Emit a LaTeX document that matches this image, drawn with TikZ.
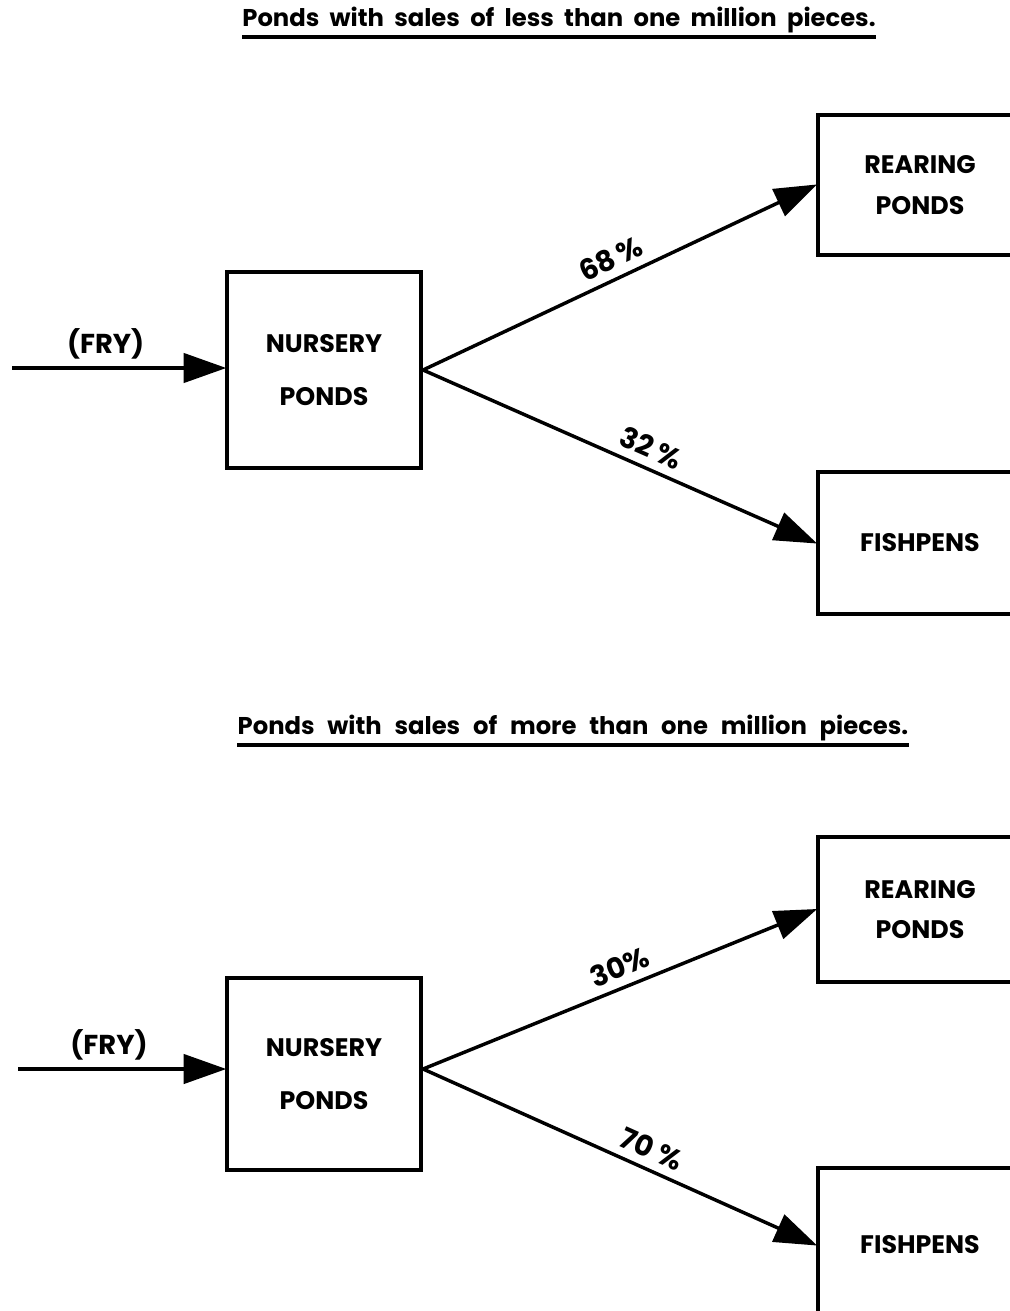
\documentclass[tikz,border=0pt]{standalone}
\usepackage{fontspec}
\setmainfont{Poppins}
\usetikzlibrary{arrows.meta}
\newcommand{\wsp}{\hspace{9.6pt}}
\tikzset{
  box/.style={draw, line width=3.1pt, align=center, inner sep=0pt, font=\fontsize{19pt}{23pt}\selectfont\bfseries},
  flow/.style={line width=2.6pt, -{Triangle[length=32pt,width=22pt]}, shorten >=-1pt},
  pct/.style={font=\fontsize{21.5pt}{24pt}\selectfont\bfseries, sloped, above=5pt, inner sep=1pt},
  title/.style={font=\fontsize{18.2pt}{22pt}\selectfont\bfseries, inner sep=0pt},
  uline/.style={line width=2.5pt},
  fry/.style={font=\fontsize{20.5pt}{24pt}\selectfont\bfseries}
}
\begin{document}
\begin{tikzpicture}[x=0.75pt,y=-0.75pt]
\useasboundingbox (0,0) rectangle (1010,1311);
% ---------- top diagram ----------
\node[title] (t1) at (559,20) {Ponds\ \ with\ \ sales\ \ of\ \ less\ \ than\ \ one\ \ million\ \ pieces.};
\draw[uline] (t1.south west |- 0,37) -- (t1.south east |- 0,37);
\node[box, minimum width=145.5pt, minimum height=147pt] (n1) at (324,370) {NURSERY\\[17pt]PONDS};
\node[box, minimum width=153pt, minimum height=105pt] (r1) at (920,185) {REARING\\[8pt]PONDS};
\node[box, minimum width=153pt, minimum height=106.5pt] (f1) at (920,543) {FISHPENS};
\coordinate (a1) at (12,368);
\draw[flow] (a1) -- node[fry, above=2pt, pos=0.44] {(FRY)} (a1 -| n1.west);
\draw[flow] (n1.east) -- node[pct, pos=0.5] {68\,\%} (r1.west);
\draw[flow] (n1.east) -- node[pct, pos=0.56] {32 \%} (f1.west);
% ---------- bottom diagram ----------
\node[title] (t2) at (573,728) {Ponds\wsp with\wsp sales\wsp of\wsp more\wsp than\wsp one\wsp million\wsp pieces.};
\draw[uline] (t2.south west |- 0,745) -- (t2.south east |- 0,745);
\node[box, minimum width=145.5pt, minimum height=144pt] (n2) at (324,1074) {NURSERY\\[17pt]PONDS};
\node[box, minimum width=153pt, minimum height=109pt] (r2) at (920,909.5) {REARING\\[7pt]PONDS};
\node[box, minimum width=153pt, minimum height=115.5pt] (f2) at (920,1245) {FISHPENS};
\coordinate (a2) at (18,1069);
\draw[flow] (a2) -- node[fry, above=2pt, pos=0.44] {(FRY)} (a2 -| n2.west);
\draw[flow] ([yshift=3.75pt]n2.east) -- node[pct, pos=0.52] {30\%} (r2.west);
\draw[flow] ([yshift=3.75pt]n2.east) -- node[pct, pos=0.56] {70 \%} (f2.west);
\end{tikzpicture}
\end{document}
